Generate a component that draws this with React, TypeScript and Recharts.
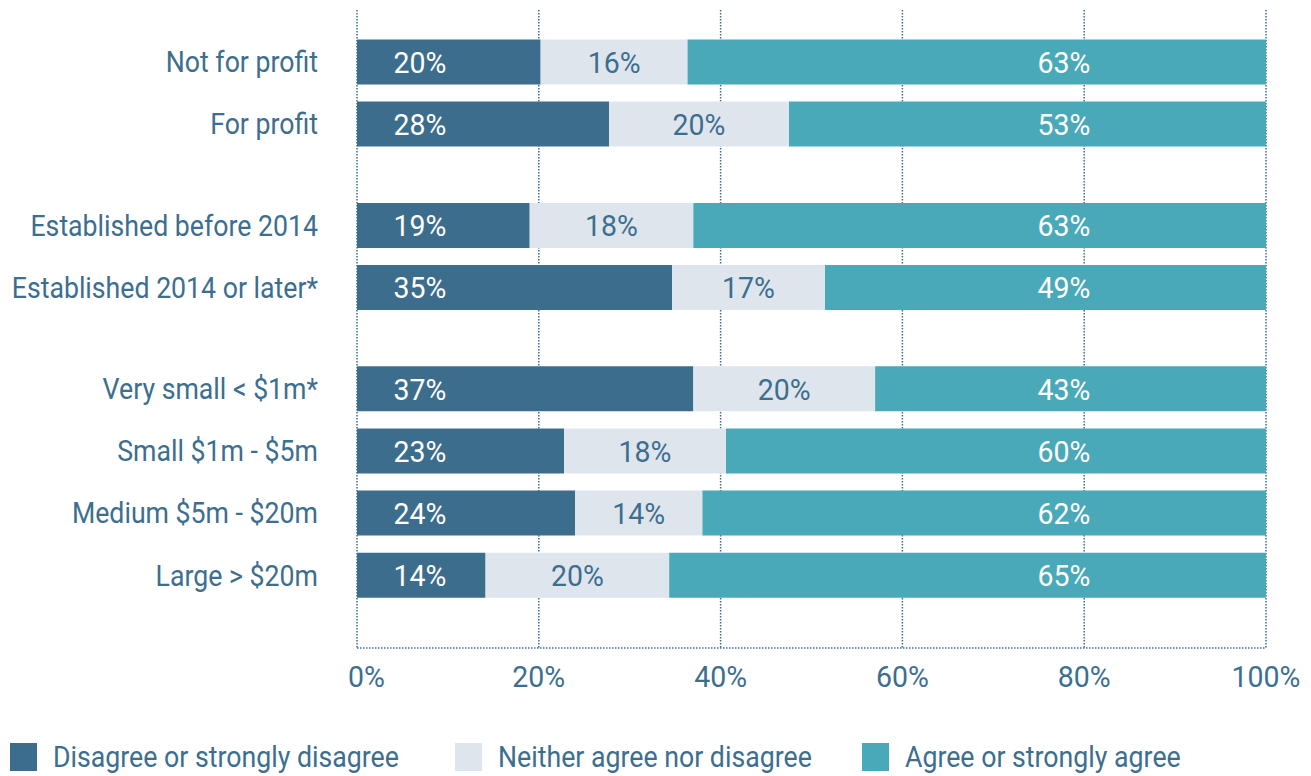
import React from 'react'
import {
  BarChart,
  Bar,
  XAxis,
  YAxis,
  CartesianGrid,
  LabelList,
} from 'recharts'

// ============================================
// Data
// ============================================

const categories = [
  'Not for profit',
  'For profit',
  'Established before 2014',
  'Established 2014 or later*',
  'Very small < $1m*',
  'Small $1m - $5m',
  'Medium $5m - $20m',
  'Large > $20m',
]

// which block each row belongs to (blocks are separated by a gap)
const groups = [0, 0, 1, 1, 2, 2, 2, 2]

const disagree = [20, 28, 19, 35, 37, 23, 24, 14]
const neither = [16, 20, 18, 17, 20, 18, 14, 20]
const agree = [63, 53, 63, 49, 43, 60, 62, 65]

const xTicks = [0, 20, 40, 60, 80, 100]

const seriesNames = [
  'Disagree or strongly disagree',
  'Neither agree nor disagree',
  'Agree or strongly agree',
]

// ============================================
// Styles
// ============================================

// no condensed face installed, so Roboto is squeezed horizontally
const FONT = "Roboto, 'Noto Sans', sans-serif"
const SQUEEZE = 0.89
const SQUEEZE_NUM = 0.95
const FS = 30
const TEXT = '#3c6e8f'
const COLORS = ['#3c6d8c', '#dfe5ed', '#4aa9b8']
const GAP = 0.63

// rows are stacked to a full 100% (the rounded labels don't always sum to 100)
const rows = categories.map((name, i) => {
  const total = disagree[i] + neither[i] + agree[i]
  return {
    name,
    pos: i + groups[i] * GAP,
    d: (disagree[i] / total) * 100,
    n: (neither[i] / total) * 100,
    a: (agree[i] / total) * 100,
    dLabel: `${disagree[i]}%`,
    nLabel: `${neither[i]}%`,
    aLabel: `${agree[i]}%`,
  }
})

const positions = rows.map(r => r.pos)
const nameAt = (v: number) => rows.find(r => Math.abs(r.pos - v) < 1e-6)?.name ?? ''

// squeezed svg text
function SText({ x, y, anchor, fill, dy, sx = SQUEEZE, children }: any) {
  return (
    <text
      transform={`translate(${x},${y}) scale(${sx},1)`}
      textAnchor={anchor}
      dy={dy}
      fill={fill}
      fontSize={FS}
      fontFamily={FONT}
    >
      {children}
    </text>
  )
}

const YTick = (props: any) => (
  <SText x={props.x} y={props.y} anchor="end" dy="0.36em" fill={TEXT}>
    {nameAt(props.payload.value)}
  </SText>
)

const XTick = (props: any) => {
  const v = props.payload.value
  return (
    <SText
      x={v === 0 ? props.x - 9 : props.x}
      y={props.y}
      anchor={v === 0 ? 'start' : 'middle'}
      dy="0.71em"
      fill={TEXT}
      sx={SQUEEZE_NUM}
    >
      {`${v}%`}
    </SText>
  )
}

// label placement: dark one sits near the start, light one centred, teal near the end
const makeLabel = (mode: 'start' | 'center' | 'end', fill: string) => (props: any) => {
  const { x, y, width, height, value } = props
  let cx = x + width / 2
  if (mode === 'start') cx = x + 63
  if (mode === 'end') cx = x + width - 202
  return (
    <SText x={cx} y={y + height / 2} anchor="middle" dy="0.36em" fill={fill} sx={SQUEEZE_NUM}>
      {value}
    </SText>
  )
}

// ============================================
// Main Component
// ============================================

export default function App() {
  return (
    <div style={{ position: 'relative', width: 1311, height: 776, background: '#fff', fontFamily: FONT }}>
      <style>{'body{margin:0}'}</style>
      <BarChart
        width={1311}
        height={700}
        data={rows}
        layout="vertical"
        margin={{ top: 10, right: 45, left: 0, bottom: 12 }}
      >
        <CartesianGrid
          horizontal={false}
          stroke={TEXT}
          strokeWidth={1.5}
          strokeDasharray="1.5 1.5"
        />
        <XAxis
          type="number"
          domain={[0, 100]}
          ticks={xTicks}
          allowDataOverflow
          height={40}
          tickSize={0}
          tickMargin={18}
          axisLine={{ stroke: TEXT, strokeWidth: 1.5, strokeDasharray: '1.5 1.5' }}
          tick={<XTick />}
        />
        <YAxis
          type="number"
          dataKey="pos"
          domain={[-0.83, 9.44]}
          allowDataOverflow
          ticks={positions}
          interval={0}
          width={357}
          tickSize={0}
          tickMargin={39}
          axisLine={false}
          tick={<YTick />}
        />
        <Bar dataKey="d" stackId="s" fill={COLORS[0]} barSize={45} isAnimationActive={false}>
          <LabelList dataKey="dLabel" content={makeLabel('start', '#ffffff')} />
        </Bar>
        <Bar dataKey="n" stackId="s" fill={COLORS[1]} barSize={45} isAnimationActive={false}>
          <LabelList dataKey="nLabel" content={makeLabel('center', TEXT)} />
        </Bar>
        <Bar dataKey="a" stackId="s" fill={COLORS[2]} barSize={45} isAnimationActive={false}>
          <LabelList dataKey="aLabel" content={makeLabel('end', '#ffffff')} />
        </Bar>
      </BarChart>

      {/* Legend */}
      {seriesNames.map((label, i) => (
        <div
          key={label}
          style={{
            position: 'absolute',
            top: 743,
            left: [10, 455, 862][i],
            display: 'flex',
            alignItems: 'center',
            height: 28,
            whiteSpace: 'nowrap',
          }}
        >
          <span style={{ width: 27, height: 28, background: COLORS[i], display: 'inline-block' }} />
          <span
            style={{
              marginLeft: 16,
              color: TEXT,
              fontSize: FS,
              lineHeight: '28px',
              display: 'inline-block',
              transform: `scaleX(${SQUEEZE})`,
              transformOrigin: 'left center',
            }}
          >
            {label}
          </span>
        </div>
      ))}
    </div>
  )
}
